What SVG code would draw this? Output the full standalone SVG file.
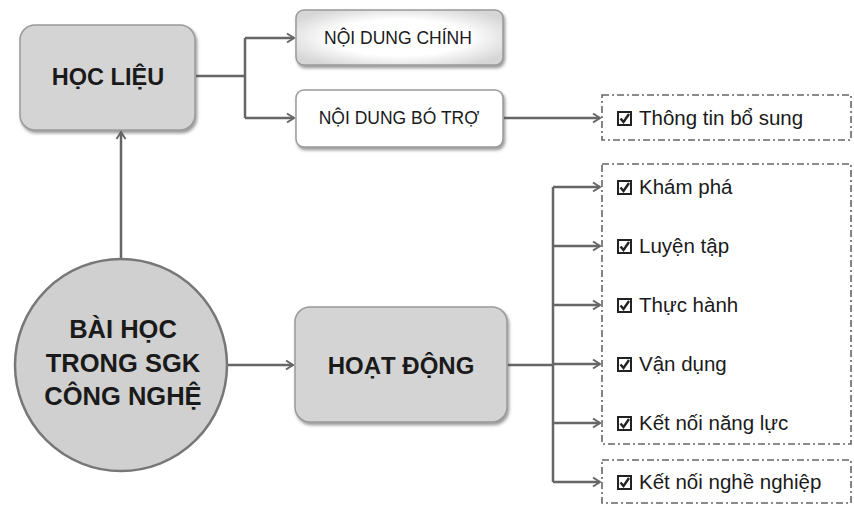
<svg xmlns="http://www.w3.org/2000/svg" width="854" height="505" viewBox="0 0 854 505">
  <defs>
    <filter id="sh" x="-10%" y="-10%" width="130%" height="140%">
      <feDropShadow dx="1.5" dy="2.5" stdDeviation="1.5" flood-color="#555" flood-opacity="0.6"/>
    </filter>
    <radialGradient id="soft" cx="50%" cy="50%" r="60%">
      <stop offset="0.55" stop-color="#ffffff"/>
      <stop offset="1" stop-color="#d6d6d6"/>
    </radialGradient>
    <marker id="arr" markerWidth="12" markerHeight="12" refX="9" refY="6" orient="auto" markerUnits="userSpaceOnUse">
      <polyline points="2,1.5 9,6 2,10.5" fill="none" stroke="#666" stroke-width="2"/>
    </marker>
    <g id="chk">
      <rect x="0" y="-13" width="13" height="13" fill="none" stroke="#222" stroke-width="2"/>
      <polyline points="2.5,-6.5 5.5,-3 11,-11" fill="none" stroke="#222" stroke-width="2.4"/>
    </g>
    <style>
      .box { fill: #d4d4d4; stroke: #9a9a9a; stroke-width: 1.5; }
      .wbox { fill: #ffffff; stroke: #9a9a9a; stroke-width: 1.5; }
      .bt { font-family: "Liberation Sans", Arial, sans-serif; font-weight: bold; fill: #1a1a1a; text-anchor: middle; }
      .nt { font-family: "Liberation Sans", Arial, sans-serif; fill: #1a1a1a; font-size: 17.5px; text-anchor: middle; }
      .it { font-family: "Liberation Sans", Arial, sans-serif; fill: #1a1a1a; font-size: 20.5px; }
      .dash { fill: #ffffff; stroke: #666; stroke-width: 1.6; stroke-dasharray: 7 3 2 3; }
      .ln { fill: none; stroke: #666; stroke-width: 2.5; }
    </style>
  </defs>
  <rect width="854" height="505" fill="#ffffff"/>

  <g id="connectors">
    <path class="ln" d="M121,258 V132" marker-end="url(#arr)"/>
    <path class="ln" d="M196,76 H245 M245,38 V118"/>
    <path class="ln" d="M245,38 H294" marker-end="url(#arr)"/>
    <path class="ln" d="M245,118 H294" marker-end="url(#arr)"/>
    <path class="ln" d="M504,118 H600" marker-end="url(#arr)"/>
    <path class="ln" d="M228,365 H293" marker-end="url(#arr)"/>
    <path class="ln" d="M508,365 H553 M553,187 V482"/>
    <path class="ln" d="M553,187 H600" marker-end="url(#arr)"/>
    <path class="ln" d="M553,246 H600" marker-end="url(#arr)"/>
    <path class="ln" d="M553,305 H600" marker-end="url(#arr)"/>
    <path class="ln" d="M553,364 H600" marker-end="url(#arr)"/>
    <path class="ln" d="M553,423 H600" marker-end="url(#arr)"/>
    <path class="ln" d="M553,482 H600" marker-end="url(#arr)"/>
  </g>

  <g id="hoc-lieu">
    <rect class="box" x="20" y="25" width="175" height="105" rx="15" filter="url(#sh)"/>
    <text class="bt" x="108" y="85" font-size="23.5">HỌC LIỆU</text>
  </g>

  <g id="noi-dung-chinh">
    <rect x="296" y="10" width="207" height="55" rx="8" fill="url(#soft)" stroke="#9a9a9a" stroke-width="1.5" filter="url(#sh)"/>
    <text class="nt" x="398" y="44">NỘI DUNG CHÍNH</text>
  </g>

  <g id="noi-dung-bo-tro">
    <rect class="wbox" x="296" y="90" width="207" height="57" rx="8" filter="url(#sh)"/>
    <text class="nt" x="399" y="124">NỘI DUNG BÓ TRỢ</text>
  </g>

  <g id="bai-hoc">
    <circle cx="121" cy="365" r="106" fill="#d0d0d0" stroke="#777" stroke-width="2.5"/>
    <text class="bt" x="123" y="338" font-size="25.5">BÀI HỌC</text>
    <text class="bt" x="123" y="372" font-size="25.5">TRONG SGK</text>
    <text class="bt" x="123" y="405" font-size="25.5">CÔNG NGHỆ</text>
  </g>

  <g id="hoat-dong">
    <rect class="box" x="295" y="307" width="212" height="115" rx="15" filter="url(#sh)"/>
    <text class="bt" x="401" y="374" font-size="24">HOẠT ĐỘNG</text>
  </g>

  <g id="thong-tin-bo-sung">
    <rect class="dash" x="602" y="95" width="249" height="45"/>
    <use href="#chk" x="618" y="125"/>
    <text class="it" x="639" y="125">Thông tin bổ sung</text>
  </g>

  <g id="nhom-hoat-dong">
    <rect class="dash" x="602" y="164" width="249" height="280"/>
    <use href="#chk" x="618" y="194"/>
    <text class="it" x="639" y="194">Khám phá</text>
    <use href="#chk" x="618" y="253"/>
    <text class="it" x="639" y="253">Luyện tập</text>
    <use href="#chk" x="618" y="312"/>
    <text class="it" x="639" y="312">Thực hành</text>
    <use href="#chk" x="618" y="371"/>
    <text class="it" x="639" y="371">Vận dụng</text>
    <use href="#chk" x="618" y="430"/>
    <text class="it" x="639" y="430">Kết nối năng lực</text>
  </g>

  <g id="ket-noi-nghe-nghiep">
    <rect class="dash" x="602" y="460" width="249" height="43"/>
    <use href="#chk" x="618" y="489"/>
    <text class="it" x="639" y="489">Kết nối nghề nghiệp</text>
  </g>
</svg>
